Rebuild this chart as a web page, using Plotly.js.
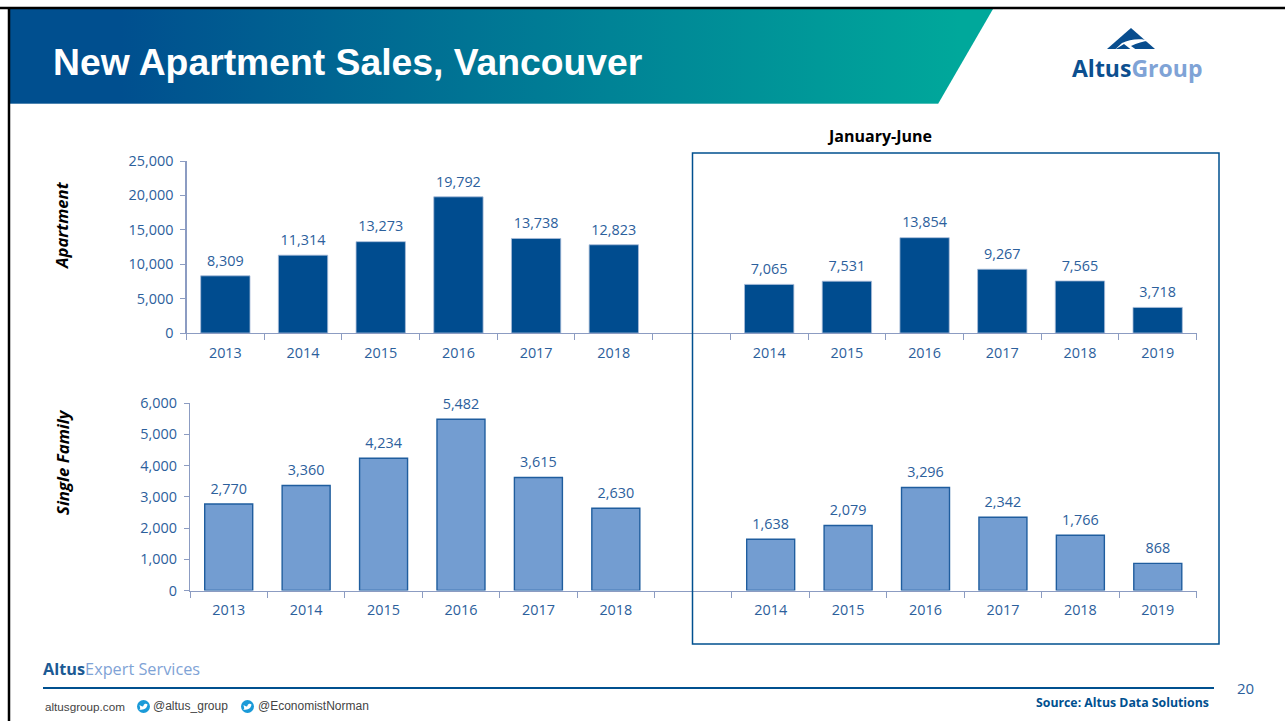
<!DOCTYPE html>
<html><head><meta charset="utf-8">
<script src="https://cdn.plot.ly/plotly-3.0.1.min.js"></script>
<style>html,body{margin:0;padding:0;background:#fff;overflow:hidden}#c{width:1285px;height:721px}</style>
</head><body><div id="c"></div>
<script>
const annualYears = ['2013','2014','2015','2016','2017','2018'];
const halfYears = ['2014','2015','2016','2017','2018','2019'];
const apartmentAnnual = [8309,11314,13273,19792,13738,12823];
const apartmentHalf = [7065,7531,13854,9267,7565,3718];
const familyAnnual = [2770,3360,4234,5482,3615,2630];
const familyHalf = [1638,2079,3296,2342,1766,868];

const W=1285,H=721;
const px=x=>x/W, py=y=>1-y/H;
const annualKeys=annualYears.map(y=>'FY'+y), halfKeys=halfYears.map(y=>'H1'+y);
const keys=[...annualKeys,'gap',...halfKeys];
const tickText=[...annualYears,'',...halfYears];
const blue='#2c609c', dark='#004c8f', light='#739dd1', axis='#8c9cc2';
const FONT='"Open Sans", "Noto Sans", sans-serif', ARIAL='"Liberation Sans", Arial, sans-serif';

function bar(x,y,xa,ya,fill,line,w,lw){return {type:'bar',x,y,xaxis:xa,yaxis:ya,width:w,
  marker:{color:fill,line:{color:line,width:lw}},hoverinfo:'skip',showlegend:false};}
function labels(x,y,xa,ya){return {type:'scatter',mode:'markers+text',x,y,xaxis:xa,yaxis:ya,cliponaxis:false,
  marker:{size:9,opacity:0},text:y.map(v=>v.toLocaleString('en-US')),textposition:'top center',
  textfont:{family:FONT,size:14.4,color:blue},hoverinfo:'skip',showlegend:false};}
const data=[
 bar(annualKeys,apartmentAnnual,'x','y',dark,'#a9bcd9',0.635,0.8),
 bar(halfKeys,apartmentHalf,'x','y',dark,'#a9bcd9',0.635,0.8),
 bar(annualKeys,familyAnnual,'x2','y2',light,'#1f5d9e',0.62,1.4),
 bar(halfKeys,familyHalf,'x2','y2',light,'#1f5d9e',0.62,1.4),
 labels(annualKeys,apartmentAnnual,'x','y'),
 labels(halfKeys,apartmentHalf,'x','y'),
 labels(annualKeys,familyAnnual,'x2','y2'),
 labels(halfKeys,familyHalf,'x2','y2')];

const xaxisBase={type:'category',categoryorder:'array',categoryarray:keys,range:[-0.5,12.5],tickmode:'array',tickvals:keys,ticktext:tickText,
  tickson:'boundaries',ticks:'outside',ticklen:6,tickwidth:1,tickcolor:axis,showline:true,linecolor:axis,linewidth:1.2,
  showgrid:false,zeroline:false,fixedrange:true,tickfont:{family:FONT,size:14.4,color:blue},tickangle:0};
const yaxisBase={ticks:'outside',ticklen:5,tickwidth:1,tickcolor:axis,showline:true,linecolor:axis,linewidth:1.2,ticklabelstandoff:4,
  showgrid:false,zeroline:false,fixedrange:true,tickformat:',d',tickfont:{family:FONT,size:14.4,color:blue}};

const shapes=[
 {type:'line',xref:'paper',yref:'paper',x0:px(0),x1:px(W),y0:py(8),y1:py(8),line:{color:'#000',width:2.5}},
 {type:'line',xref:'paper',yref:'paper',x0:px(9),x1:px(9),y0:py(8),y1:py(H),line:{color:'#000',width:2.5}},
 {type:'rect',xref:'paper',yref:'paper',x0:px(692.5),x1:px(1219),y0:py(153),y1:py(644),line:{color:'#00508f',width:1.5},fillcolor:'rgba(0,0,0,0)'},
 {type:'line',xref:'paper',yref:'paper',x0:px(43),x1:px(1214),y0:py(688),y1:py(688),line:{color:'#00508f',width:2}},
 {type:'circle',xref:'paper',yref:'paper',x0:px(137),x1:px(150),y0:py(713),y1:py(700),fillcolor:'#1a9ad8',line:{width:0}},
 {type:'circle',xref:'paper',yref:'paper',x0:px(241),x1:px(254),y0:py(713),y1:py(700),fillcolor:'#1a9ad8',line:{width:0}},
 {type:'path',xref:'paper',yref:'paper',path:`M${px(1131)},${py(28)} L${px(1155)},${py(49)} L${px(1107)},${py(49)} Z`,fillcolor:'#084d8e',line:{width:0}},
 {type:'path',xref:'paper',yref:'paper',path:`M${px(1115)},${py(49.5)} L${px(1122)},${py(43)} C${px(1130)},${py(39)} ${px(1141)},${py(38)} ${px(1150)},${py(41)} C${px(1143)},${py(41)} ${px(1137)},${py(43)} ${px(1131)},${py(46)} L${px(1136)},${py(49.5)} L${px(1131)},${py(49.5)} L${px(1124)},${py(44)} Z`,fillcolor:'#fff',line:{width:0}},
];
for(const cx of [143.5,247.5]){
 shapes.push({type:'path',xref:'paper',yref:'paper',path:`M${px(cx-4)},${py(705)} C${px(cx-2)},${py(706.5)} ${px(cx)},${py(707)} ${px(cx)},${py(705.5)} C${px(cx+0.5)},${py(703.5)} ${px(cx+3)},${py(703.5)} ${px(cx+4)},${py(704.5)} C${px(cx+3.5)},${py(708)} ${px(cx+1)},${py(710.5)} ${px(cx-4.5)},${py(709.5)} C${px(cx-2.5)},${py(709)} ${px(cx-3.5)},${py(707.5)} ${px(cx-4)},${py(705)} Z`,fillcolor:'#fff',line:{width:0}});
}
function note(text,x,y,opts={}){return Object.assign({xref:'paper',yref:'paper',x:px(x),y:py(y),text,showarrow:false,xanchor:'left',yanchor:'middle',borderpad:0,
  font:{family:ARIAL,size:12,color:'#333'}},opts);}
const annotations=[
 note('<b>New Apartment Sales, Vancouver</b>',52,62,{font:{family:ARIAL,size:37.3,color:'#fff'}}),
 note('<b>Altus</b><span style="color:#7fa3d6"><b>Group</b></span>',1070.5,68.5,{font:{family:FONT,size:23,color:'#0c4f8f'}}),
 note('<b>January-June</b>',879,136,{xanchor:'center',font:{family:FONT,size:16,color:'#000'}}),
 note('<b><i>Apartment</i></b>',62,225,{xanchor:'center',textangle:-90,font:{family:FONT,size:16.7,color:'#000'}}),
 note('<b><i>Single Family</i></b>',62,462,{xanchor:'center',textangle:-90,font:{family:FONT,size:16.8,color:'#000'}}),
 note('<b>Altus</b><span style="color:#7fa3d6">Expert Services</span>',42,669,{font:{family:FONT,size:16.3,color:'#1c5a94'}}),
 note('altusgroup.com',44,706,{font:{family:ARIAL,size:11.7,color:'#444'}}),
 note('@altus_group',152,706,{font:{family:ARIAL,size:12,color:'#444'}}),
 note('@EconomistNorman',257,706,{font:{family:ARIAL,size:12,color:'#444'}}),
 note('<b>Source: Altus Data Solutions</b>',1209.5,702,{xanchor:'right',font:{family:FONT,size:12.3,color:'#00508f'}}),
 note('20',1245,688,{xanchor:'center',font:{family:FONT,size:15,color:'#2c609c'}}),
];
const band='<svg xmlns="http://www.w3.org/2000/svg" width="1285" height="721"><defs><linearGradient id="g" gradientUnits="userSpaceOnUse" x1="120" y1="0" x2="960" y2="0"><stop offset="0" stop-color="#004f8f"/><stop offset="1" stop-color="#00a89b"/></linearGradient></defs><polygon points="10,9 993,9 938,104 10,104" fill="url(#g)"/><rect x="10" y="103" width="928" height="1.2" fill="#ffffff" fill-opacity="0.3"/></svg>';
const layout={width:W,height:H,margin:{l:0,r:0,t:0,b:0},paper_bgcolor:'#fff',plot_bgcolor:'rgba(0,0,0,0)',barmode:'overlay',showlegend:false,
 xaxis:Object.assign({},xaxisBase,{domain:[px(186.5),px(1196.5)],anchor:'y',ticklabelstandoff:7}),
 yaxis:Object.assign({},yaxisBase,{domain:[py(333),py(161)],range:[0,25000],dtick:5000,anchor:'x'}),
 xaxis2:Object.assign({},xaxisBase,{domain:[px(190),px(1196.5)],anchor:'y2',ticklabelstandoff:6}),
 yaxis2:Object.assign({},yaxisBase,{domain:[py(590.5),py(403)],range:[0,6000],dtick:1000,anchor:'x2'}),
 shapes,annotations,
 images:[{source:'data:image/svg+xml;utf8,'+encodeURIComponent(band),xref:'paper',yref:'paper',x:0,y:1,sizex:1,sizey:1,xanchor:'left',yanchor:'top',sizing:'stretch',layer:'below'}]};
Plotly.newPlot('c',data,layout,{displayModeBar:false,staticPlot:true});
</script></body></html>
